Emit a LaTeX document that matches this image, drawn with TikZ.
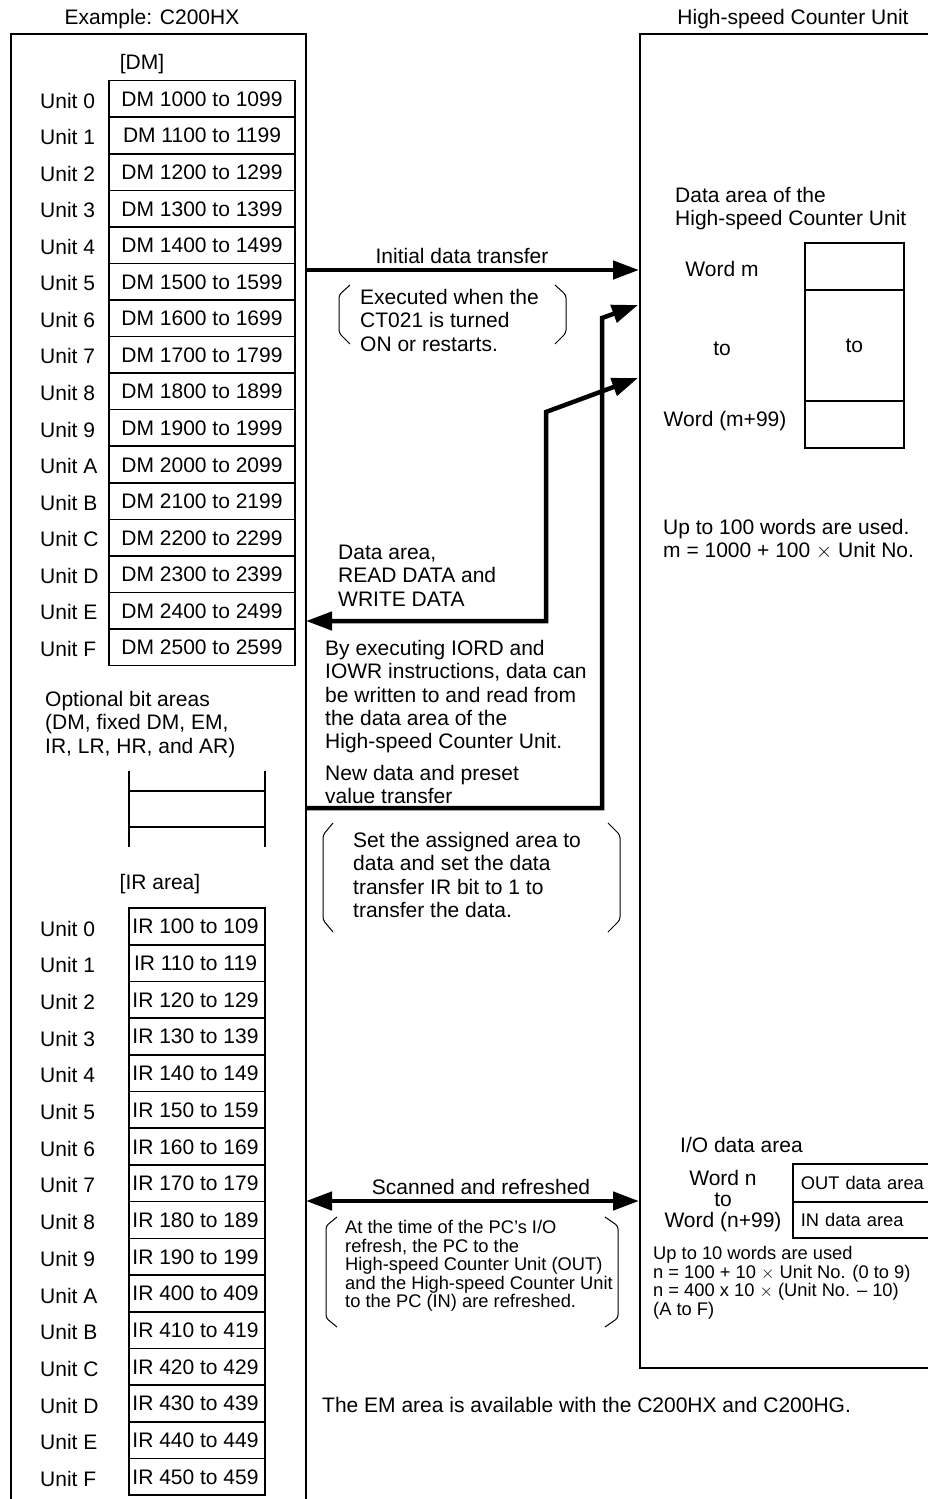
\documentclass[tikz,border=0pt]{standalone}
\usepackage{fontspec}
\setmainfont{Liberation Sans}
\usetikzlibrary{arrows.meta}
\begin{document}
\begin{tikzpicture}[x=1pt,y=-1pt,
  lbl/.style={font=\fontsize{21}{23.3}\selectfont, inner sep=0pt, text height=15pt, text depth=0pt},
  para/.style={font=\fontsize{21}{23.3}\selectfont, inner sep=0pt, align=left, anchor=north west},
  spara/.style={font=\fontsize{18.3}{18.6}\selectfont, inner sep=0pt, align=left, anchor=north west},
  frame/.style={line width=2.2pt},
  cell/.style={draw, line width=1.6pt, inner sep=0pt, font=\fontsize{21}{23.3}\selectfont, text height=15pt, text depth=0pt},
  flow/.style={line width=4.5pt},
  oneway/.style={flow, -{Triangle[length=26pt,width=18pt]}},
  twoway/.style={flow, {Triangle[length=26pt,width=18pt]}-{Triangle[length=26pt,width=18pt]}},
  brk/.style={line width=1pt, rounded corners=3pt},
]
\useasboundingbox (0,0) rectangle (927,1499);

% titles
\node[lbl] (ttlL) at (152,17) {Example: C200HX};
\node[lbl] (ttlR) at (793,17) {High-speed Counter Unit};

% frames
\draw[frame] (11,1510) -- (11,34) -- (306,34) -- (306,1510);
\draw[frame] (935,34) -- (640,34) -- (640,1368) -- (935,1368);

% DM table
\node[lbl] (dmT) at (142,62) {[DM]};
\foreach \u [count=\i from 0] in {0,1,2,3,4,5,6,7,8,9,A,B,C,D,E,F} {
  \pgfmathtruncatemacro\lo{1000+100*\i}
  \pgfmathtruncatemacro\hi{1099+100*\i}
  \node[cell, minimum width=186pt, minimum height=36.56pt] (dm\u) at (202, 80+36.56*\i+18.9) {DM \lo\ to \hi};
  \node[lbl, anchor=west] (dmu\u) at (40, 80+36.56*\i+20.5) {Unit \u};
}

% optional bit areas
\node[para] (opt) at (45,691) {Optional bit areas\\(DM, fixed DM, EM,\\IR, LR, HR, and AR)};
\draw[line width=1.6pt] (129,771) -- (129,847) (265,771) -- (265,847)
  (129,791) -- (265,791) (129,827) -- (265,827);

% IR table
\node[lbl] (irT) at (160,882) {[IR area]};
\foreach \u [count=\i from 0] in {0,1,2,3,4,5,6,7,8,9,A,B,C,D,E,F} {
  \pgfmathtruncatemacro\lo{\i<10 ? 100+10*\i : 400+10*(\i-10)}
  \pgfmathtruncatemacro\hi{\lo+9}
  \node[cell, minimum width=136pt, minimum height=36.7pt] (ir\u) at (197, 908+36.7*\i+18.35) {\hspace*{-3pt}IR \lo\ to \hi};
  \node[lbl, anchor=west] (iru\u) at (40, 908+36.7*\i+20.5) {Unit \u};
}

% right unit: data area
\node[para] (dA) at (675,187) {Data area of the\\High-speed Counter Unit};
\node[cell, minimum width=99pt, minimum height=47pt, anchor=north west] (wm) at (804,242) {};
\node[cell, minimum width=99pt, minimum height=111pt, anchor=north west] (wto) at (804,289) {to};
\node[cell, minimum width=99pt, minimum height=47pt, anchor=north west] (wend) at (804,400) {};
\node[lbl] (wmL) at (722,269) {Word m};
\node[lbl] (wtoL) at (722,348) {to};
\node[lbl] (wendL) at (725,419) {Word (m+99)};
\node[para] (upto) at (663,519) {Up to 100 words are used.\\m = 1000 + 100 $\times$ Unit No.};

% I/O data area
\node[lbl, anchor=west] (ioT) at (680,1145) {I/O data area};
\node[font=\fontsize{21}{21}\selectfont, inner sep=0pt, align=center, anchor=north] (wn) at (723,1170) {Word n\\to\\Word (n+99)};
\node[draw, line width=1.6pt, anchor=north west, minimum height=38pt, text width=130pt, inner xsep=8pt, inner ysep=0pt, align=left, font=\fontsize{18.3}{18.6}\selectfont] (outA) at (792,1163) {OUT data area};
\node[draw, line width=1.6pt, anchor=north west, minimum height=36pt, text width=130pt, inner xsep=8pt, inner ysep=0pt, align=left, font=\fontsize{18.3}{18.6}\selectfont] (inA) at (792,1201) {IN data area};
\node[spara] (up10) at (653,1246) {Up to 10 words are used\\n = 100 + 10 $\times$ Unit No. (0 to 9)\\n = 400 x 10 $\times$ (Unit No. – 10)\\(A to F)};

% connectors
\coordinate (pcI) at (306,270);
\coordinate (hsI) at (639,270);
\draw[oneway] (pcI) -- (hsI);
\node[lbl] (initL) at (462,256) {Initial data transfer};
\node[para] (execL) at (360,289) {Executed when the\\CT021 is turned\\ON or restarts.};
\draw[brk] (350,285) -- (339,295) -- (339,333) -- (350,344);
\draw[brk] (555,285) -- (566,295) -- (566,333) -- (555,344);

\coordinate (pcRW) at (306,621);
\coordinate (rwK1) at (546,621);
\coordinate (rwK2) at (546,412);
\coordinate (hsRW) at (638,378);
\draw[twoway] (pcRW) -- (rwK1) -- (rwK2) -- (hsRW);
\node[para] (rwL) at (338,545) {Data area,\\READ DATA and\\WRITE DATA};

\coordinate (pcND) at (305,808);
\coordinate (ndK1) at (602,808);
\coordinate (ndK2) at (602,318);
\coordinate (hsND) at (638,305);
\draw[oneway] (pcND) -- (ndK1) -- (ndK2) -- (hsND);
\node[para] (iordL) at (325,640) {By executing IORD and\\IOWR instructions, data can\\be written to and read from\\the data area of the\\High-speed Counter Unit.};
\node[para] (ndL) at (325,765) {New data and preset\\value transfer};
\node[para] (setL) at (353,832) {Set the assigned area to\\data and set the data\\transfer IR bit to 1 to\\transfer the data.};
\draw[brk] (333,823) -- (323,835) -- (323,920) -- (333,932);
\draw[brk] (608,823) -- (620,835) -- (620,920) -- (608,932);

\coordinate (pcSR) at (306,1201);
\coordinate (hsSR) at (639,1201);
\draw[twoway] (pcSR) -- (hsSR);
\node[lbl] (srL) at (481,1187) {Scanned and refreshed};
\node[spara] (atL) at (345,1220) {At the time of the PC’s I/O\\refresh, the PC to the\\High-speed Counter Unit (OUT)\\and the High-speed Counter Unit\\to the PC (IN) are refreshed.};
\draw[brk] (337,1217) -- (326,1226) -- (326,1318) -- (337,1327);
\draw[brk] (605,1217) -- (618,1226) -- (618,1318) -- (605,1327);

\node[lbl, anchor=west] (emL) at (322,1405) {The EM area is available with the C200HX and C200HG.};
\end{tikzpicture}
\end{document}
